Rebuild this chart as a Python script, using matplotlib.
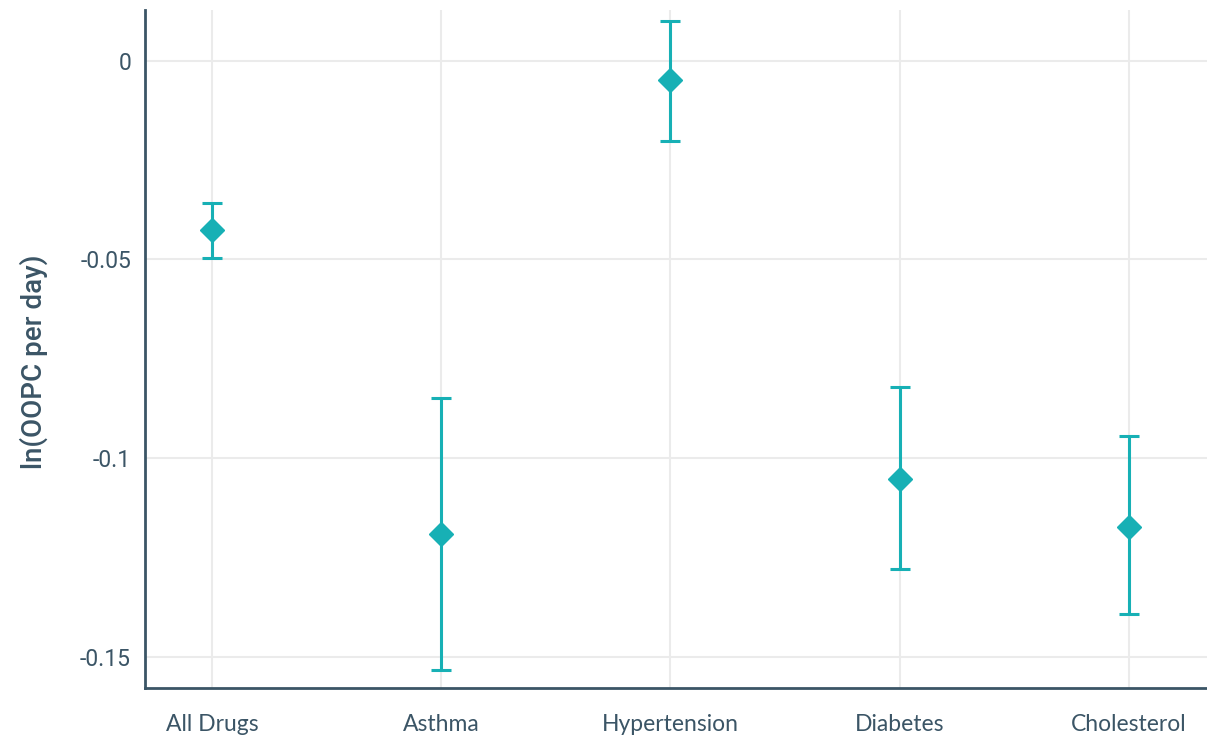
import matplotlib
matplotlib.use("Agg")
import matplotlib.pyplot as plt

categories = ["All Drugs", "Asthma", "Hypertension", "Diabetes", "Cholesterol"]
estimates = [-0.0426, -0.1191, -0.0048, -0.1053, -0.1174]
ci_upper = [-0.0358, -0.0849, 0.0101, -0.0821, -0.0945]
ci_lower = [-0.0496, -0.1534, -0.0202, -0.1280, -0.1393]
y_ticks = [0, -0.05, -0.1, -0.15]
y_tick_labels = ["0", "-0.05", "-0.1", "-0.15"]

text_color = "#3b5566"
teal = "#17b0b5"

plt.rcParams["font.family"] = ["Roboto", "DejaVu Sans"]

fig = plt.figure(figsize=(12.07, 7.39), dpi=100)
W, H = 1207, 739
ax = fig.add_axes([145 / W, 1 - 688 / H, (1207 - 145) / W, (688 - 10) / H])

x = list(range(len(categories)))
yerr_low = [e - l for e, l in zip(estimates, ci_lower)]
yerr_high = [u - e for e, u in zip(estimates, ci_upper)]
ax.errorbar(x, estimates, yerr=[yerr_low, yerr_high], fmt="D", color=teal,
            ecolor=teal, elinewidth=2.2, capsize=7, capthick=2.2,
            markersize=12, zorder=3)

ax.set_xlim(-0.292, 4.34)
ax.set_ylim(-0.1579, 0.0128)
ax.set_xticks(x)
ax.set_xticklabels(categories, fontsize=16.5, color=text_color, family=["Lato", "DejaVu Sans"])
ax.set_yticks(y_ticks)
ax.set_yticklabels(y_tick_labels, fontsize=16.5, color=text_color)
ax.tick_params(axis="both", length=0)
ax.tick_params(axis="x", pad=19)
ax.tick_params(axis="y", pad=10)

ax.grid(True, color="#ebebeb", linewidth=1.5, zorder=0)
ax.set_axisbelow(True)
for side in ["top", "right"]:
    ax.spines[side].set_visible(False)
for side in ["left", "bottom"]:
    ax.spines[side].set_color(text_color)
    ax.spines[side].set_linewidth(2)

fig.text(34 / W, 1 - 362 / H, "ln(OOPC per day)", rotation=90, ha="center", va="center",
         fontsize=20, color=text_color, fontweight="medium")

fig.savefig("out.png", dpi=100)
